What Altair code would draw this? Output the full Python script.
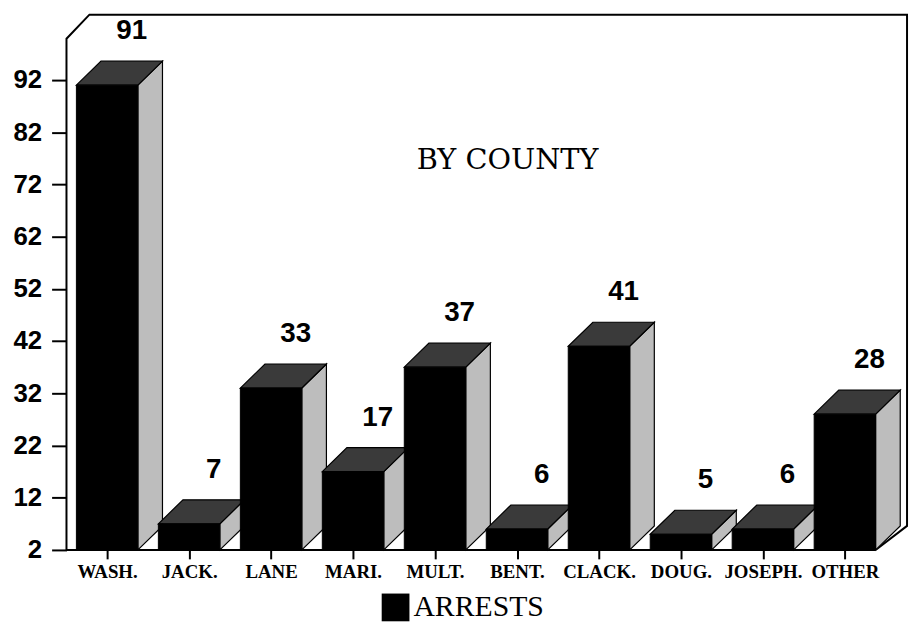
import json
import altair as alt
import pandas as pd

# ---- data ----
counties = ["WASH.", "JACK.", "LANE", "MARI.", "MULT.", "BENT.", "CLACK.", "DOUG.", "JOSEPH.", "OTHER"]
arrests = [91, 7, 33, 17, 37, 6, 41, 5, 6, 28]
y_ticks = [2, 12, 22, 32, 42, 52, 62, 72, 82, 92]
series_name = "ARRESTS"
chart_title = "BY COUNTY"

# ---- geometry / style constants (in data units) ----
BASE = 2
HALF = 0.375      # half width of a bar's front face
DX = 0.30         # 3D depth, x
DY = 4.6          # 3D depth, y
X_MIN, X_MAX = -0.496, 9.758
Y_MAX = 104.5
FRONT, TOP, SIDE = "#000000", "#3a3a3a", "#bdbdbd"

n = len(counties)
idx = list(range(n))

front = pd.DataFrame({
    "idx": idx, "county": counties, "value": arrests,
    "x0": [i - HALF for i in idx], "x1": [i + HALF for i in idx],
    "base": [BASE] * n, "series": [series_name] * n,
    "lx": [i + DX for i in idx], "ly": [v + DY for v in arrests],
})

top_rows, side_rows = [], []
for i, v in zip(idx, arrests):
    a, b = i - HALF, i + HALF
    top_rows += [
        {"idx": i, "x": a, "y": v, "y2": v},
        {"idx": i, "x": a + DX, "y": v, "y2": v + DY},
        {"idx": i, "x": b, "y": v, "y2": v + DY},
        {"idx": i, "x": b + DX, "y": v + DY, "y2": v + DY},
    ]
    side_rows += [
        {"idx": i, "x": b, "y": BASE, "y2": v},
        {"idx": i, "x": b + DX, "y": BASE + DY, "y2": v + DY},
    ]
top = pd.DataFrame(top_rows)
side = pd.DataFrame(side_rows)

last_b = (n - 1) + HALF
frame = pd.DataFrame({
    "o": list(range(7)),
    "x": [last_b, X_MIN, X_MIN, X_MIN + 0.28, X_MAX, X_MAX, last_b],
    "y": [BASE, BASE, 99.9, Y_MAX, Y_MAX, BASE + DY, BASE],
})

xs = alt.Scale(domain=[X_MIN, X_MAX], nice=False, zero=False)
ys = alt.Scale(domain=[BASE, Y_MAX], nice=False, zero=False)

x_axis = alt.Axis(
    values=idx, labelExpr=f"{json.dumps(counties)}[datum.value]",
    tickSize=9, tickWidth=2, tickColor="black", domain=False, grid=False,
    labelFont="Liberation Serif", labelFontWeight="bold", labelFontSize=19,
    labelColor="black", labelPadding=4, labelFlush=False, labelOverlap=False,
    title=None,
)
y_axis = alt.Axis(
    values=y_ticks, tickSize=15, tickWidth=2, tickColor="black", domain=False,
    grid=False, labelFont="Liberation Sans", labelFontWeight="bold",
    labelFontSize=26, labelColor="black", labelPadding=10, minExtent=59,
    title=None,
)


def X(field):
    return alt.X(field, type="quantitative", scale=xs, axis=x_axis)


def Y(field):
    return alt.Y(field, type="quantitative", scale=ys, axis=y_axis, stack=None)


side_layer = alt.Chart(side).mark_area(
    fill=SIDE, stroke="black", strokeWidth=1.2, interpolate="linear",
    orient="vertical",
).encode(x=X("x"), y=Y("y"), y2="y2:Q", detail="idx:N")

top_layer = alt.Chart(top).mark_area(
    fill=TOP, stroke="black", strokeWidth=1.2, interpolate="linear",
    orient="vertical",
).encode(x=X("x"), y=Y("y"), y2="y2:Q", detail="idx:N")

front_layer = alt.Chart(front).mark_rect(stroke="black", strokeWidth=1).encode(
    x=X("x0"), x2="x1:Q", y=Y("base"), y2="value:Q",
    color=alt.Color(
        "series:N",
        scale=alt.Scale(domain=[series_name], range=[FRONT]),
        legend=alt.Legend(
            orient="none", legendX=317, legendY=583, title=None,
            symbolType="square", symbolSize=784, symbolStrokeWidth=0,
            labelFont="Liberation Serif", labelFontSize=30, labelColor="black",
            labelOffset=3, padding=0,
        ),
    ),
)

labels = alt.Chart(front).mark_text(
    font="Liberation Sans", fontWeight="bold", fontSize=28, color="black",
    baseline="middle", dy=-30,
).encode(x=X("lx"), y=Y("ly"), text="value:Q")

frame_layer = alt.Chart(frame).mark_line(color="black", strokeWidth=2).encode(
    x=X("x"), y=Y("y"), order="o:Q"
)

title_layer = alt.Chart(pd.DataFrame({"t": [chart_title]})).mark_text(
    font="DejaVu Serif", fontSize=29, color="black"
).encode(text="t:N", x=alt.value(445), y=alt.value(147))

chart = alt.layer(
    frame_layer, side_layer, top_layer, front_layer, labels, title_layer
).properties(width=848, height=540, padding=0).configure_view(stroke=None)

chart.save("out.html", embed_options={"renderer": "svg", "actions": False})
